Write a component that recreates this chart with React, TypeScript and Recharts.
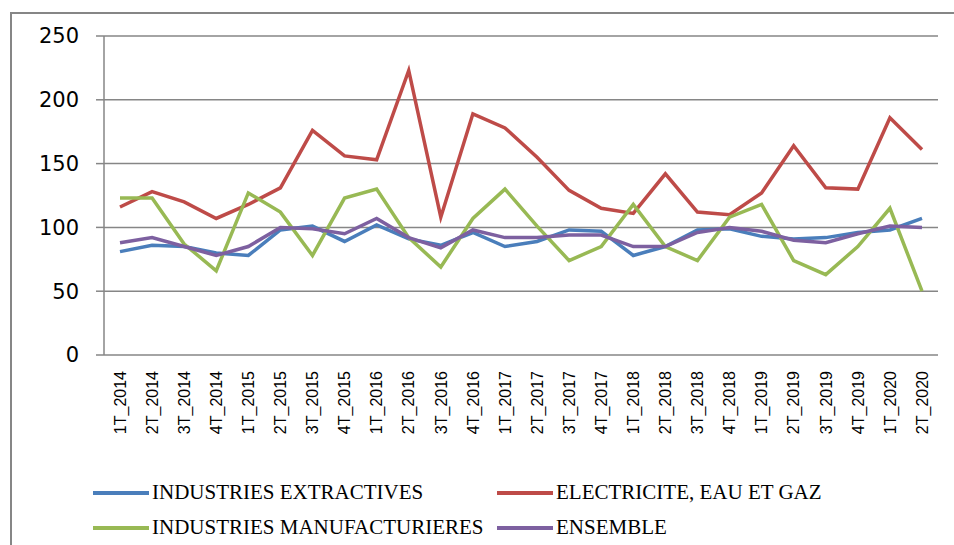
import React from "react";
import { LineChart, Line, XAxis, YAxis, CartesianGrid, Legend } from "recharts";

const quarters = [
  "1T_2014", "2T_2014", "3T_2014", "4T_2014",
  "1T_2015", "2T_2015", "3T_2015", "4T_2015",
  "1T_2016", "2T_2016", "3T_2016", "4T_2016",
  "1T_2017", "2T_2017", "3T_2017", "4T_2017",
  "1T_2018", "2T_2018", "3T_2018", "4T_2018",
  "1T_2019", "2T_2019", "3T_2019", "4T_2019",
  "1T_2020", "2T_2020",
];

const extractives = [
  81, 86, 85, 80, 78, 98, 101, 89, 102, 91, 86, 96,
  85, 89, 98, 97, 78, 85, 98, 99, 93, 91, 92, 96, 98, 107,
];
const electricite = [
  116, 128, 120, 107, 118, 131, 176, 156, 153, 223, 108, 189,
  178, 155, 129, 115, 111, 142, 112, 110, 127, 164, 131, 130, 186, 161,
];
const manufacturieres = [
  123, 123, 87, 66, 127, 112, 78, 123, 130, 92, 69, 107,
  130, 101, 74, 85, 118, 85, 74, 108, 118, 74, 63, 85, 115, 50,
];
const ensemble = [
  88, 92, 85, 78, 85, 100, 99, 95, 107, 92, 84, 98,
  92, 92, 94, 94, 85, 85, 96, 100, 97, 90, 88, 95, 101, 100,
];

const yTicks = [0, 50, 100, 150, 200, 250];
const boundaryTicks = quarters.map((_, i) => i).concat(quarters.length);

const series = [
  { key: "ext", name: "INDUSTRIES EXTRACTIVES", color: "#4A7EBB" },
  { key: "elec", name: "ELECTRICITE, EAU ET GAZ", color: "#BE4B48" },
  { key: "manu", name: "INDUSTRIES MANUFACTURIERES", color: "#98B954" },
  { key: "ens", name: "ENSEMBLE", color: "#7D60A0" },
];

const rows = quarters.map((q, i) => ({
  q,
  ext: extractives[i],
  elec: electricite[i],
  manu: manufacturieres[i],
  ens: ensemble[i],
}));

const GRID = "#868686";

function QuarterTick({ x, y, payload }: any) {
  return (
    <g transform={`translate(${x},${y})`}>
      <text
        transform="rotate(-90)"
        textAnchor="end"
        dy="0.36em"
        fontFamily="'Liberation Sans', Arial, sans-serif"
        fontSize={16}
        fill="#000"
      >
        {payload.value}
      </text>
    </g>
  );
}

// legend keeps the series order (Excel lays it out row by row, two per row)
function LegendBox() {
  return (
    <div
      style={{
        height: 70,
        width: 954,
        display: "grid",
        gridTemplateColumns: "404px 400px",
        gridAutoRows: "35px",
        paddingLeft: 93,
        boxSizing: "border-box",
        fontFamily: "'Liberation Serif', 'Times New Roman', serif",
        fontSize: 21,
        color: "#000",
      }}
    >
      {series.map((s) => (
        <div key={s.key} style={{ display: "flex", alignItems: "center" }}>
          <span
            style={{
              display: "inline-block",
              width: 56,
              height: 4,
              background: s.color,
              marginRight: 3,
            }}
          />
          <span style={{ whiteSpace: "nowrap" }}>{s.name}</span>
        </div>
      ))}
    </div>
  );
}

export default function App() {
  return (
    <div
      style={{
        position: "fixed",
        inset: 0,
        overflow: "hidden",
        background: "#fff",
      }}
    >
      <div
        style={{
          position: "absolute",
          left: 10,
          top: 12,
          width: 980,
          height: 600,
          border: `2px solid ${GRID}`,
          boxSizing: "border-box",
        }}
      />
      <div style={{ position: "absolute", left: 0, top: 0 }}>
        <LineChart
          width={954}
          height={545}
          data={rows}
          margin={{ top: 36, right: 16, left: 0, bottom: 0 }}
        >
          <CartesianGrid vertical={false} stroke={GRID} strokeWidth={1.5} />
          <XAxis
            xAxisId="num"
            type="number"
            domain={[0, quarters.length]}
            ticks={boundaryTicks}
            allowDataOverflow
            height={0}
            tickSize={7}
            tick={() => <g />}
            stroke={GRID}
            strokeWidth={1.5}
          />
          <XAxis
            xAxisId="cat"
            dataKey="q"
            interval={0}
            height={120}
            padding={{ left: 16, right: 16 }}
            axisLine={false}
            tickLine={false}
            tickSize={7}
            tickMargin={9}
            tick={<QuarterTick />}
          />
          <YAxis
            width={104}
            domain={[0, 250]}
            ticks={yTicks}
            tickSize={8}
            tickMargin={17}
            stroke={GRID}
            strokeWidth={1.5}
            tick={{
              fill: "#000",
              fontSize: 21,
              fontFamily: "'DejaVu Sans', Verdana, sans-serif",
            }}
          />
          <Legend
            verticalAlign="bottom"
            wrapperStyle={{ left: 0, bottom: 0 }}
            content={<LegendBox />}
          />
          {series.map((s) => (
            <Line
              key={s.key}
              xAxisId="cat"
              type="linear"
              dataKey={s.key}
              name={s.name}
              stroke={s.color}
              strokeWidth={3.5}
              dot={false}
              isAnimationActive={false}
            />
          ))}
        </LineChart>
      </div>
    </div>
  );
}
